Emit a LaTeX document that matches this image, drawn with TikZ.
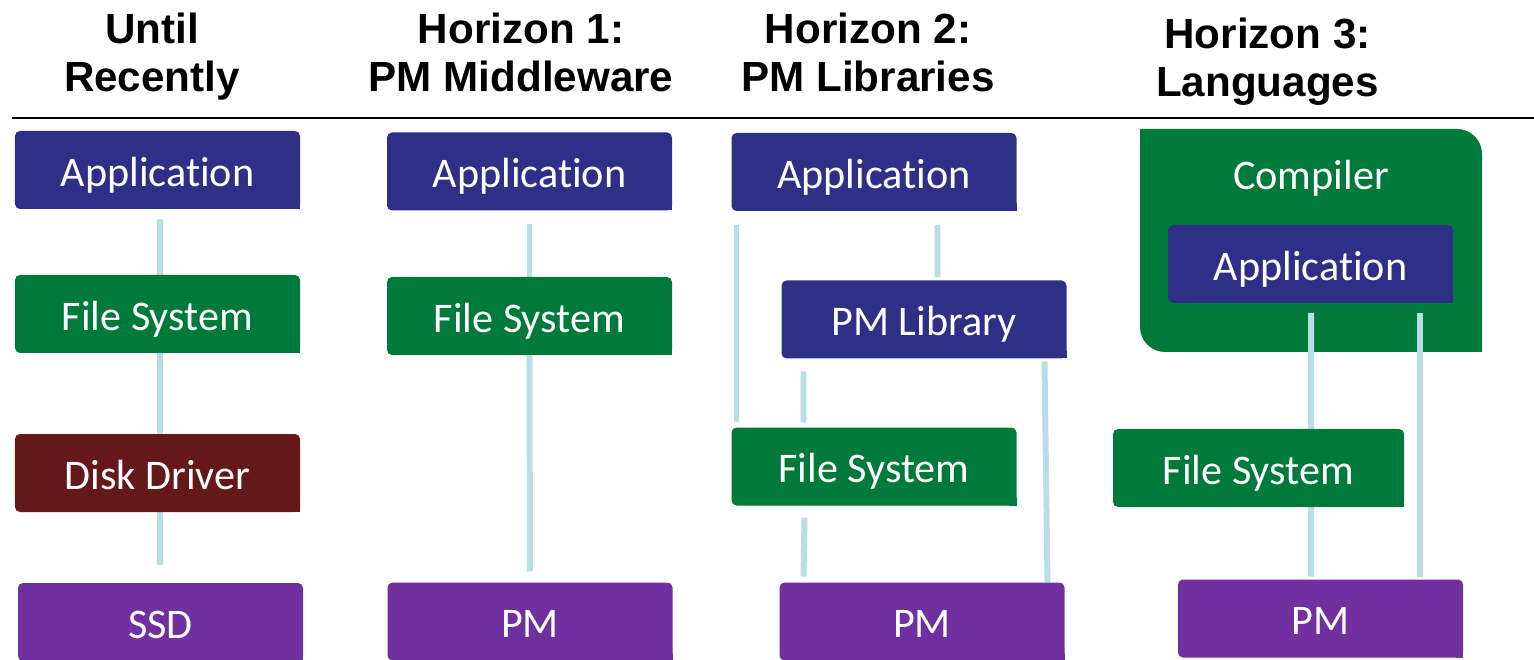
\documentclass[tikz,border=0pt]{standalone}
\usepackage{fontspec}
\setmainfont{Carlito}[Ligatures=NoCommon]
\newfontfamily\headfont{Liberation Sans}
\usetikzlibrary{calc,backgrounds}
\definecolor{appblue}{HTML}{2E3088}
\definecolor{fsgreen}{HTML}{007A3B}
\definecolor{drvred}{HTML}{65181A}
\definecolor{pmpurple}{HTML}{7030A0}
\definecolor{linkblue}{HTML}{B9DFE4}
\tikzstyle{layer_box}=[rectangle,
                       minimum height=1.56cm,
                       minimum width=5.7cm,
                       inner sep=0pt,
                       outer sep=0pt,
                       text=white,
                       text height=18.5pt,
                       text depth=0pt,
                       font=\fontsize{24}{29}\selectfont,
                       rounded corners=0.1cm ]
\tikzstyle{column_head}=[align=center,
                         anchor=base,
                         inner sep=0pt,
                         font=\headfont\bfseries\fontsize{24}{27.8}\selectfont ]
\tikzstyle{stack_link}=[draw=linkblue, line width=3.4pt]

\begin{document}
\begin{tikzpicture}
  \useasboundingbox (0cm, 0cm) rectangle (30.68cm, -13.2cm);

  \node at (3.04cm, -1.84cm) (H1) [column_head] {Until\\Recently};
  \node at (10.42cm, -1.84cm) (H2) [column_head] {Horizon 1:\\PM Middleware};
  \node at (17.36cm, -1.84cm) (H3) [column_head] {Horizon 2:\\PM Libraries};
  \node at (25.35cm, -1.94cm) (H4) [column_head] {Horizon 3:\\Languages};
  \draw[line width=1.7pt] (0.24cm, -2.36cm) -- (30.68cm, -2.36cm);

  % until recently
  \node at (3.15cm, -3.4cm) (A1) [layer_box, fill=appblue] {Application};
  \node at (3.15cm, -6.28cm) (F1) [layer_box, fill=fsgreen] {File System};
  \node at (3.15cm, -9.46cm) (D1) [layer_box, fill=drvred] {Disk Driver};
  \node at (3.21cm, -12.44cm) (S1) [layer_box, fill=pmpurple] {SSD};

  % horizon 1
  \node at (10.59cm, -3.43cm) (A2) [layer_box, fill=appblue] {Application};
  \node at (10.59cm, -6.32cm) (F2) [layer_box, fill=fsgreen] {File System};
  \node at (10.6cm, -12.43cm) (P2) [layer_box, fill=pmpurple] {PM};

  % horizon 2
  \node at (17.48cm, -3.44cm) (A3) [layer_box, fill=appblue] {Application};
  \node at (18.48cm, -6.39cm) (L3) [layer_box, fill=appblue] {PM Library};
  \node at (17.48cm, -9.33cm) (F3) [layer_box, fill=fsgreen] {File System};
  \node at (18.44cm, -12.43cm) (P3) [layer_box, fill=pmpurple] {PM};

  % horizon 3
  \node at (26.22cm, -4.81cm) (C4) [layer_box, rounded corners=0pt,
        minimum width=6.84cm, minimum height=4.46cm,
        text height=1.22cm, text depth=3.24cm] {Compiler};
  \node at (26.21cm, -5.28cm) (A4) [layer_box, fill=appblue] {Application};
  \node at (25.17cm, -9.36cm) (F4) [layer_box, fill=fsgreen, minimum width=5.82cm] {File System};
  \node at (26.41cm, -12.37cm) (P4) [layer_box, fill=pmpurple] {PM};

  \foreach \nd/\cl in {A1/appblue, F1/fsgreen, D1/drvred, S1/pmpurple,
                       A2/appblue, F2/fsgreen, P2/pmpurple,
                       A3/appblue, L3/appblue, F3/fsgreen, P3/pmpurple,
                       A4/appblue, F4/fsgreen, P4/pmpurple} {
    \fill[\cl] (\nd.south east) rectangle ++(-0.15cm, 0.15cm);
  }

  \begin{scope}[on background layer]
    \fill[fsgreen] (C4.north west) -- ($(C4.north east)+(-0.5cm,0)$)
      arc[start angle=90, end angle=0, radius=0.5cm] -- (C4.south east)
      -- ($(C4.south west)+(0.5cm,0)$)
      arc[start angle=270, end angle=180, radius=0.5cm] -- cycle;

    \draw[stack_link, shorten <=0.2cm] ([xshift=0.05cm]A1.south) -- ([xshift=0.05cm]F1.north);
    \draw[stack_link] ([xshift=0.05cm]F1.south) -- ([xshift=0.05cm]D1.north);
    \draw[stack_link, shorten >=0.36cm] ([xshift=0.05cm]D1.south) -- ([xshift=-0.01cm]S1.north);

    \draw[stack_link, shorten <=0.28cm] (A2.south) -- (F2.north);
    \draw[stack_link, shorten >=0.22cm] (F2.south) -- (P2.north);

    \draw[stack_link] ($(A3.south west)+(0.1cm,-0.28cm)$) -- ($(F3.north west)+(0.1cm,0.12cm)$);
    \draw[stack_link] ($(A3.south west)+(4.12cm,-0.28cm)$) -- ($(L3.north west)+(3.12cm,0.06cm)$);
    \draw[stack_link] ($(L3.south west)+(0.44cm,-0.26cm)$) -- ($(F3.north west)+(1.44cm,0.1cm)$);
    \draw[stack_link] ($(L3.south east)+(-0.44cm,-0.06cm)$) -- ($(P3.north east)+(-0.34cm,0cm)$);
    \draw[stack_link] ($(F3.south west)+(1.46cm,-0.24cm)$) -- ($(P3.north west)+(0.48cm,0.12cm)$);

    \draw[stack_link] ($(A4.south west)+(2.86cm,-0.2cm)$) -- ($(F4.north west)+(3.96cm,0cm)$);
    \draw[stack_link] ($(F4.south west)+(3.96cm,0cm)$) -- ($(P4.north west)+(2.66cm,0.06cm)$);
    \draw[stack_link] ($(A4.south west)+(5.04cm,-0.2cm)$) -- ($(P4.north west)+(4.84cm,0.06cm)$);
  \end{scope}
\end{tikzpicture}
\end{document}
